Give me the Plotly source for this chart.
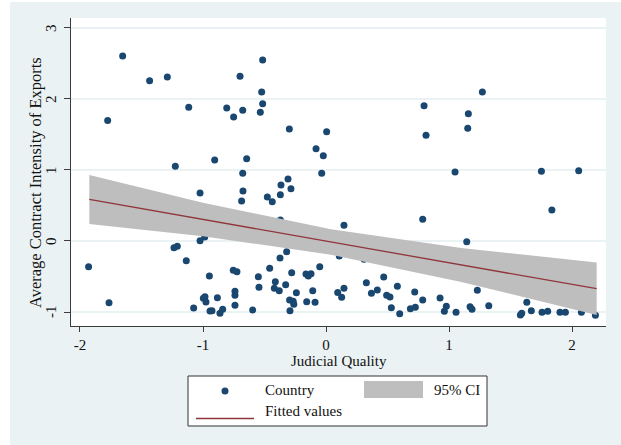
import plotly.graph_objects as go

# Country-level observations: judicial quality index vs. average contract intensity of exports
judicial_quality = [
    -1.653, -1.434, -1.290, -1.775, -1.116, -1.225, -0.905, -0.807, -0.751, -0.677,
    -0.699, -0.515, -0.523, -0.515, -0.534, -0.645, -0.677, -0.298, 0.005, -0.081,
    -0.022, -0.035, -0.366, -0.309, 1.271, 0.797, 1.157, 1.152, 0.813, 1.049,
    1.751, 2.054, 1.836, 0.786, 1.144, 0.146, 0.108, 0.309,
    -1.024, -1.930, -1.764, -1.236, -1.209, -1.136, -1.024, -0.986, -1.076, -0.997,
    -0.984, -0.976, -0.948, -0.943,
    -0.675, -0.686, -0.477, -0.437, -0.371, -0.285, -0.371, -0.320, -0.374, -0.458,
    -0.754, -0.724, -0.550, -0.545, -0.412, -0.420, -0.380, -0.328, -0.279, -0.241,
    -0.296, -0.267, -0.262, -0.293, -0.163, -0.144, -0.122, -0.051, -0.108, -0.157,
    -0.089, -0.740, -0.740, -0.740, -0.596, -0.883, -0.927, -0.862, -0.840,
    0.095, 0.127, 0.146, 0.328, 0.369, 0.417, 0.469, 0.493, 0.520, 0.531,
    0.580, 0.599, 0.686, 0.726, 0.721, 0.786, 0.927, 0.962, 0.978, 1.057,
    1.171, 1.187, 1.230, 1.323, 1.580, 1.591, 1.632, 1.669, 1.756, 1.802,
    1.902, 1.946, 2.076, 2.190,
]
contract_intensity = [
    2.606, 2.258, 2.310, 1.695, 1.883, 1.052, 1.141, 1.873, 1.746, 1.840,
    2.319, 2.549, 2.099, 1.934, 1.812, 1.159, 0.953, 1.577, 1.540, 1.300,
    1.202, 0.953, 0.789, 0.873, 2.099, 1.906, 1.793, 1.587, 1.489, 0.972,
    0.981, 0.990, 0.435, 0.305, -0.009, 0.221, -0.211, -0.258,
    0.676, -0.362, -0.869, -0.094, -0.075, -0.277, 0.004, 0.056, -0.944, -0.808,
    -0.784, -0.860, -0.493, -0.986,
    0.704, 0.563, 0.620, 0.554, 0.652, 0.737, 0.296, -0.150, -0.239, -0.385,
    -0.413, -0.432, -0.502, -0.653, -0.573, -0.667, -0.700, -0.615, -0.446, -0.728,
    -0.831, -0.849, -0.892, -0.981, -0.465, -0.493, -0.460, -0.362, -0.700, -0.855,
    -0.864, -0.709, -0.765, -0.906, -0.972, -0.799, -0.981, -1.019, -0.962,
    -0.726, -0.793, -0.667, -0.587, -0.737, -0.690, -0.507, -0.765, -0.789, -0.939,
    -0.638, -1.024, -0.953, -0.934, -0.718, -0.831, -0.803, -0.990, -0.920, -1.005,
    -0.925, -0.962, -0.694, -0.911, -1.042, -1.019, -0.864, -0.981, -1.005, -0.991,
    -1.005, -1.005, -1.005, -1.047,
]

# Linear fit and its 95% confidence band, sampled along the judicial-quality range
fit_x = [-1.924, -1.0, 0.04, 1.1, 2.2]
fit_y = [0.585, 0.303, -0.014, -0.337, -0.672]
ci_lower = [0.240, 0.066, -0.192, -0.576, -1.042]
ci_upper = [0.930, 0.540, 0.164, -0.098, -0.302]

x_ticks = [-2, -1, 0, 1, 2]
x_tick_labels = ["-2", "-1", "0", "1", "2"]
y_ticks = [-1, 0, 1, 2, 3]
y_tick_labels = ["-1", "0", "1", "2", "3"]

NAVY = "#1A476F"
MAROON = "#90353B"
BAND = "#BEBEBE"
BG = "#EAF2F3"
AXIS = "#3C3C3C"
INK = "#111111"
FONT = "Liberation Serif"

fig = go.Figure()
fig.add_trace(go.Scatter(x=judicial_quality, y=contract_intensity, mode="markers",
                         name="Country", marker=dict(color=NAVY, size=7, line=dict(width=0))))
fig.add_trace(go.Scatter(x=fit_x, y=ci_lower, mode="lines", line=dict(width=0),
                         hoverinfo="skip", showlegend=False))
fig.add_trace(go.Scatter(x=fit_x, y=ci_upper, mode="lines", line=dict(width=0),
                         fill="tonexty", fillcolor=BAND, name="95% CI"))
fig.add_trace(go.Scatter(x=fit_x, y=fit_y, mode="lines", name="Fitted values",
                         line=dict(color=MAROON, width=1.3)))

W, H = 621, 445
L, R, T, B = 71, 15, 18, 119
PW, PH = W - L - R, H - T - B


def px(v):
    return (v - L) / PW


def py(v):
    return (H - B - v) / PH


shapes = [
    # white frame strip at the left and top edges of the canvas
    dict(type="rect", xref="paper", yref="paper", x0=px(0), x1=px(10), y0=py(H), y1=py(0),
         fillcolor="white", line=dict(width=0), layer="below"),
    dict(type="rect", xref="paper", yref="paper", x0=px(0), x1=px(W), y0=py(2), y1=py(0),
         fillcolor="white", line=dict(width=0), layer="below"),
    # legend box and keys
    dict(type="rect", xref="paper", yref="paper", x0=px(188), x1=px(487), y0=py(426), y1=py(376),
         fillcolor="white", line=dict(color="#333333", width=1)),
    dict(type="circle", xref="paper", yref="paper", x0=px(221.5), x1=px(228.5),
         y0=py(394.5), y1=py(387.5), fillcolor=NAVY, line=dict(width=0)),
    dict(type="rect", xref="paper", yref="paper", x0=px(364), x1=px(423), y0=py(398), y1=py(381),
         fillcolor=BAND, line=dict(width=0)),
    dict(type="line", xref="paper", yref="paper", x0=px(196), x1=px(254), y0=py(418.5), y1=py(418.5),
         line=dict(color=MAROON, width=1.3)),
]

font_txt = dict(family=FONT, size=15, color=INK)
annotations = [
    dict(text="Country", x=px(263), y=py(390), xref="paper", yref="paper",
         xanchor="left", yanchor="middle", showarrow=False, font=font_txt),
    dict(text="95% CI", x=px(432), y=py(390), xref="paper", yref="paper",
         xanchor="left", yanchor="middle", showarrow=False, font=font_txt),
    dict(text="Fitted values", x=px(263), y=py(411), xref="paper", yref="paper",
         xanchor="left", yanchor="middle", showarrow=False, font=font_txt),
    dict(text="Judicial Quality", x=px(339), y=py(361), xref="paper", yref="paper",
         xanchor="center", yanchor="middle", showarrow=False, font=font_txt),
    dict(text="Average Contract Intensity of Exports", x=px(35), y=py(183),
         xref="paper", yref="paper", xanchor="center", yanchor="middle",
         textangle=-90, showarrow=False, font=dict(family=FONT, size=16.5, color=INK)),
]
# vertical y tick labels, placed at their tick values
for val, lab in zip(y_ticks, y_tick_labels):
    annotations.append(dict(text=lab, x=px(51), y=val, xref="paper", yref="y",
                            xanchor="center", yanchor="middle", textangle=-90,
                            showarrow=False, font=font_txt))

fig.update_layout(
    width=W, height=H, autosize=False,
    margin=dict(l=L, r=R, t=T, b=B, pad=0),
    paper_bgcolor=BG, plot_bgcolor="white",
    showlegend=False,
    font=dict(family=FONT, size=15, color=INK),
    shapes=shapes, annotations=annotations,
    xaxis=dict(range=[-2.073, 2.276], tickmode="array", tickvals=x_ticks, ticktext=x_tick_labels,
               showgrid=False, zeroline=False, showline=True, linecolor=AXIS, linewidth=1.2,
               ticks="outside", ticklen=5, tickcolor=AXIS, tickwidth=1.2,
               tickfont=dict(family=FONT, size=15, color=INK)),
    yaxis=dict(range=[-1.197, 3.14], tickmode="array", tickvals=y_ticks,
               showticklabels=False,
               showgrid=True, gridcolor=BG, gridwidth=1.5, zeroline=False,
               showline=True, linecolor=AXIS, linewidth=1.2,
               ticks="outside", ticklen=6, tickcolor=AXIS, tickwidth=1.2),
)

fig.write_html("out.html")
